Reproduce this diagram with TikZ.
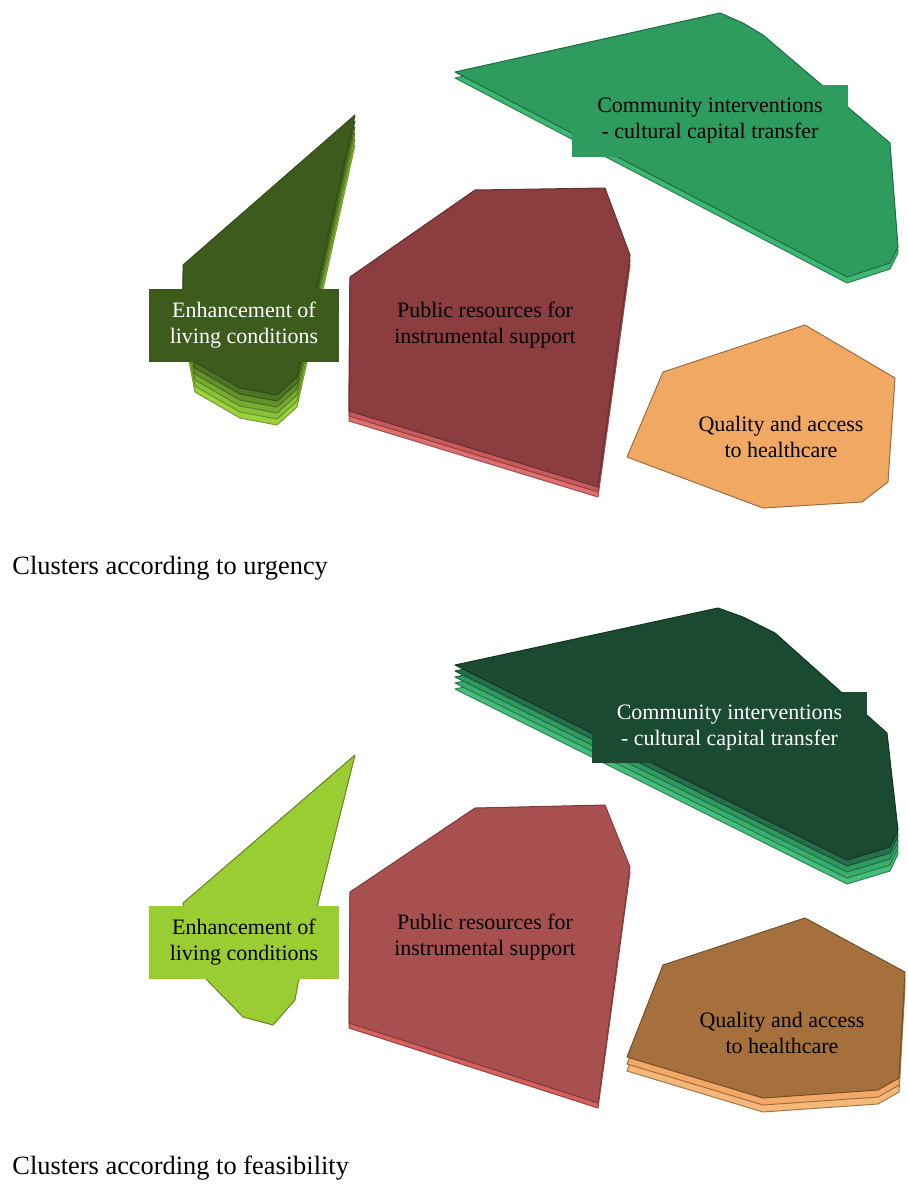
\documentclass[tikz,border=0pt]{standalone}
\usepackage{fontspec}
\setmainfont{Liberation Serif}
% top panel colours
\definecolor{EnhA}{HTML}{3E5B1E}
\definecolor{EnhA1}{HTML}{4F7423}
\definecolor{EnhA2}{HTML}{62902A}
\definecolor{EnhA3}{HTML}{76AB30}
\definecolor{EnhA4}{HTML}{88C138}
\definecolor{EnhA5}{HTML}{9CD23E}
\definecolor{PubA}{HTML}{8B3D40}
\definecolor{PubA1}{HTML}{C95A5C}
\definecolor{PubA2}{HTML}{E07070}
\definecolor{ComA}{HTML}{2E9B5F}
\definecolor{ComA1}{HTML}{3DB873}
\definecolor{QuaA}{HTML}{F0A862}
% bottom panel colours
\definecolor{EnhB}{HTML}{9ACD32}
\definecolor{PubB}{HTML}{A84F4F}
\definecolor{PubB1}{HTML}{D8605E}
\definecolor{ComB}{HTML}{1B4A32}
\definecolor{ComB1}{HTML}{24704A}
\definecolor{ComB2}{HTML}{2E9A60}
\definecolor{ComB3}{HTML}{38AD6C}
\definecolor{ComB4}{HTML}{45BE7A}
\definecolor{QuaB}{HTML}{A5703C}
\definecolor{QuaB1}{HTML}{F3A965}
\definecolor{QuaB2}{HTML}{F6B878}
\begin{document}
\begin{tikzpicture}[x=0.5pt,y=-0.5pt,
  blob/.style={line width=0.5pt, line join=round},
  lbl/.style={align=center, inner sep=0pt, font=\fontsize{11}{13}\selectfont},
  captext/.style={anchor=base west, inner sep=0pt, font=\fontsize{13.2}{15}\selectfont}]
\useasboundingbox (0,0) rectangle (908,1184);

% ================= TOP PANEL =================
% Community interventions (top)
\filldraw[blob, fill=ComA1, draw=ComA1!70!black, shift={(0,6)}]
  (455,72) -- (720,13) -- (743,23) -- (763,35) -- (890,143) -- (898,247) -- (890,263) -- (847,277) -- cycle;
\filldraw[blob, fill=ComA, draw=ComA!70!black]
  (455,72) -- (720,13) -- (743,23) -- (763,35) -- (890,143) -- (898,247) -- (890,263) -- (847,277) -- cycle;
\node[lbl, fill=ComA, minimum width=138pt, minimum height=36pt, text=black] (comA) at (710,121)
  {Community interventions\\- cultural capital transfer};

% Enhancement of living conditions (top)
\foreach \k/\c in {5/EnhA5,4/EnhA4,3/EnhA3,2/EnhA2,1/EnhA1} {
  \filldraw[blob, fill=\c, draw=\c!75!black, shift={(0,6*\k)}]
    (355,115) -- (183,265) -- (183,300) -- (195,362) -- (240,388) -- (277,395) -- (297,377) -- cycle;
}
\filldraw[blob, fill=EnhA, draw=EnhA!80!black]
  (355,115) -- (183,265) -- (183,300) -- (195,362) -- (240,388) -- (277,395) -- (297,377) -- cycle;
\node[lbl, fill=EnhA, minimum width=95pt, minimum height=36.5pt, text=white] (enhA) at (244,325.5)
  {Enhancement of\\living conditions};

% Public resources (top)
\foreach \k/\c in {2/PubA2,1/PubA1} {
  \filldraw[blob, fill=\c, draw=\c!70!black, shift={(0,5*\k)}]
    (350,277) -- (475,190) -- (605,188) -- (630,255) -- (598,487) -- (349,411) -- cycle;
}
\filldraw[blob, fill=PubA, draw=PubA!75!black]
  (350,277) -- (475,190) -- (605,188) -- (630,255) -- (598,487) -- (349,411) -- cycle;
\node[lbl, text=black] (pubA) at (485,325) {Public resources for\\instrumental support};

% Quality and access (top)
\filldraw[blob, fill=QuaA, draw=QuaA!65!black]
  (663,372) -- (805,325) -- (895,378) -- (888,482) -- (862,502) -- (763,508) -- (627,457) -- cycle;
\node[lbl, text=black] (quaA) at (781,437) {Quality and access\\to healthcare};

\node[captext] (capA) at (12,574) {Clusters according to urgency};

% ================= BOTTOM PANEL =================
% Community interventions (bottom)
\foreach \k/\c in {4/ComB4,3/ComB3,2/ComB2,1/ComB1} {
  \filldraw[blob, fill=\c, draw=\c!70!black, shift={(0,6*\k)}]
    (455,665) -- (718,608) -- (743,617) -- (775,633) -- (887,733) -- (898,830) -- (890,847) -- (847,860) -- cycle;
}
\filldraw[blob, fill=ComB, draw=ComB!70!black]
  (455,665) -- (718,608) -- (743,617) -- (775,633) -- (887,733) -- (898,830) -- (890,847) -- (847,860) -- cycle;
\node[lbl, fill=ComB, minimum width=137.5pt, minimum height=35.5pt, text=white] (comB) at (729.5,727.5)
  {Community interventions\\- cultural capital transfer};

% Enhancement of living conditions (bottom)
\filldraw[blob, fill=EnhB, draw=EnhB!65!black]
  (355,755) -- (183,903) -- (183,925) -- (207,980) -- (243,1017) -- (273,1025) -- (295,1000) -- (298,983) -- cycle;
\node[lbl, fill=EnhB, minimum width=95pt, minimum height=36.5pt, text=black] (enhB) at (244,942.5)
  {Enhancement of\\living conditions};

% Public resources (bottom)
\filldraw[blob, fill=PubB1, draw=PubB1!70!black, shift={(0,5)}]
  (350,892) -- (475,808) -- (605,805) -- (630,867) -- (598,1103) -- (349,1023) -- cycle;
\filldraw[blob, fill=PubB, draw=PubB!75!black]
  (350,892) -- (475,808) -- (605,805) -- (630,867) -- (598,1103) -- (349,1023) -- cycle;
\node[lbl, text=black] (pubB) at (485,937) {Public resources for\\instrumental support};

% Quality and access (bottom)
\foreach \k/\c in {2/QuaB2,1/QuaB1} {
  \filldraw[blob, fill=\c, draw=\c!65!black, shift={(0,7*\k)}]
    (663,965) -- (805,918) -- (905,972) -- (899,1078) -- (878,1090) -- (763,1098) -- (627,1057) -- cycle;
}
\filldraw[blob, fill=QuaB, draw=QuaB!70!black]
  (663,965) -- (805,918) -- (905,972) -- (899,1078) -- (878,1090) -- (763,1098) -- (627,1057) -- cycle;
\node[lbl, text=black] (quaB) at (782,1033) {Quality and access\\to healthcare};

\node[captext] (capB) at (12,1174) {Clusters according to feasibility};
\end{tikzpicture}
\end{document}
